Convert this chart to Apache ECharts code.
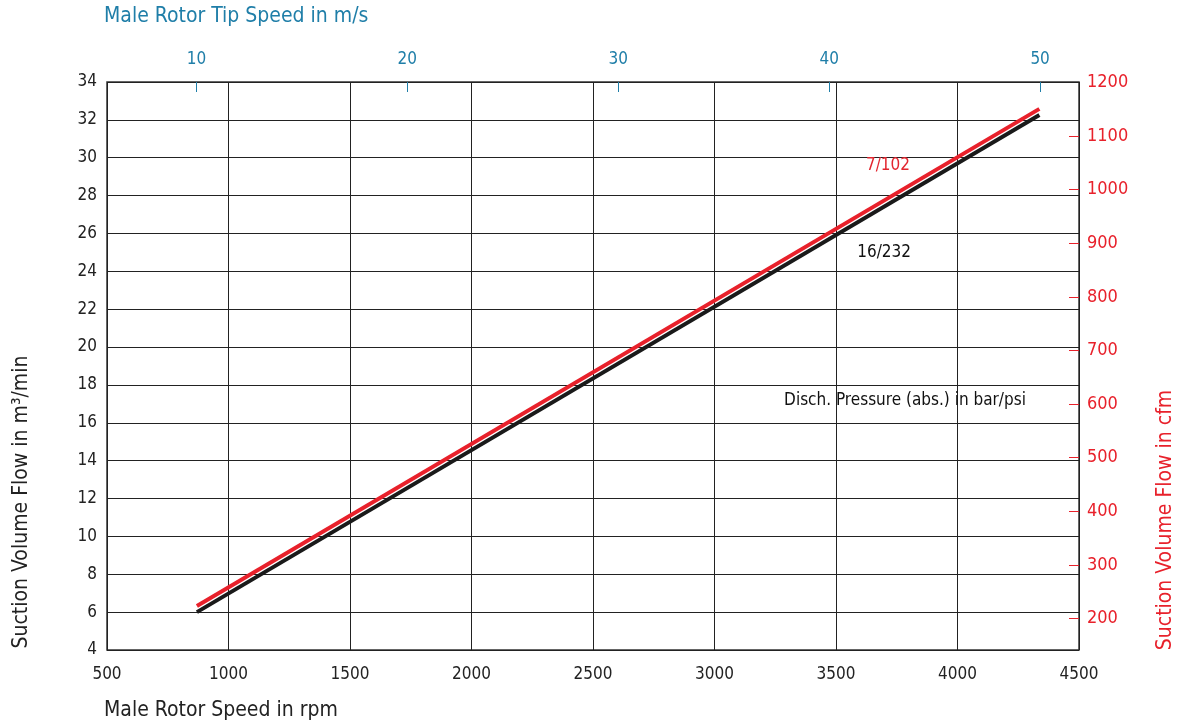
<!DOCTYPE html>
<html>
<head>
<meta charset="utf-8">
<script src="https://cdn.jsdelivr.net/npm/echarts@6/dist/echarts.min.js"></script>
<style>
  html, body { margin: 0; padding: 0; background: #fff; }
  #main { width: 1192px; height: 728px; }
</style>
</head>
<body>
<div id="main"></div>
<script>
// rpm -> flow in m3/min
let rpm_pts = [870, 4337];
let flow_16_232 = [6.0, 32.26];
let flow_7_102 = [6.32, 32.58];

let tip_ticks = [10, 20, 30, 40, 50];          // m/s
let cfm_labels = [200, 300, 400, 500, 600, 700, 800, 900, 1000, 1100, 1200];
let cfm_ticks = [200, 300, 400, 500, 600, 700, 800, 900, 1000, 1100];

let RPM_PER_MS = 86.8;      // 10 m/s ~ 868 rpm
let CFM_PER_M3 = 35.315;

// annotations [rpm, m3/min, text]
let notes = [
    [3714, 29.6, '7/102', '#e2262f'],
    [3698, 25.0, '16/232', '#111'],
    [3784, 17.15, 'Disch. Pressure (abs.) in bar/psi', '#111']
];

let font = '"Liberation Sans Narrow", "DejaVu Sans Condensed", Roboto, sans-serif';
let red = '#e8212b';
let blue = '#1f7ea8';
let plain = v => String(v);

let myChart = echarts.init(document.getElementById('main'));

let option = {
    animation: false,
    textStyle: { fontFamily: font },
    grid: { left: 107, right: 113, top: 82, bottom: 78, show: true, borderColor: '#333', borderWidth: 1.5 },
    xAxis: [
        {
            type: 'value', position: 'bottom',
            min: 500, max: 4500, interval: 500,
            axisLine: { show: false },
            axisTick: { show: false },
            axisLabel: { color: '#222', fontSize: 17, margin: 16, fontFamily: font, formatter: plain },
            splitLine: { lineStyle: { color: '#222', width: 1 } }
        },
        {
            type: 'value', position: 'top',
            min: 500 / RPM_PER_MS, max: 4500 / RPM_PER_MS,
            axisLine: { show: false },
            axisTick: { show: true, inside: true, length: 10, customValues: tip_ticks, lineStyle: { color: blue } },
            axisLabel: { color: blue, fontSize: 17, margin: 14, customValues: tip_ticks, fontFamily: font, formatter: plain },
            splitLine: { show: false }
        }
    ],
    yAxis: [
        {
            type: 'value', position: 'left',
            min: 4, max: 34, interval: 2,
            axisLine: { show: false },
            axisTick: { show: false },
            axisLabel: { color: '#222', fontSize: 17, margin: 10, fontFamily: font, formatter: plain },
            splitLine: { lineStyle: { color: '#222', width: 1 } }
        },
        {
            type: 'value', position: 'right',
            min: 4 * CFM_PER_M3, max: 34 * CFM_PER_M3,
            axisLine: { show: false },
            axisTick: { show: true, inside: true, length: 10, customValues: cfm_ticks, lineStyle: { color: red } },
            axisLabel: { color: red, fontSize: 18, margin: 8, customValues: cfm_labels, fontFamily: font, formatter: plain },
            splitLine: { show: false }
        }
    ],
    graphic: [
        { type: 'text', left: 104, top: 6, style: { text: 'Male Rotor Tip Speed in m/s', fill: blue, fontSize: 21, fontFamily: font } },
        { type: 'text', left: 104, top: 700, style: { text: 'Male Rotor Speed in rpm', fill: '#222', fontSize: 21, fontFamily: font } },
        { type: 'text', x: 22, y: 502, rotation: Math.PI / 2, style: { text: 'Suction Volume Flow in m³/min', fill: '#222', fontSize: 21, fontFamily: font, align: 'center', verticalAlign: 'middle' } },
        { type: 'text', x: 1166, y: 520, rotation: Math.PI / 2, style: { text: 'Suction Volume Flow in cfm', fill: red, fontSize: 21, fontFamily: font, align: 'center', verticalAlign: 'middle' } }
    ],
    series: [
        {
            name: '16/232', type: 'line', xAxisIndex: 0, yAxisIndex: 0,
            data: rpm_pts.map((r, i) => [r, flow_16_232[i]]),
            showSymbol: false,
            lineStyle: { color: '#1a1a1a', width: 4 }
        },
        {
            name: '7/102', type: 'line', xAxisIndex: 0, yAxisIndex: 0,
            data: rpm_pts.map((r, i) => [r, flow_7_102[i]]),
            showSymbol: false,
            lineStyle: { color: red, width: 4 }
        },
        {
            type: 'scatter', xAxisIndex: 0, yAxisIndex: 0,
            symbolSize: 0, silent: true,
            data: notes.map(n => ({
                value: [n[0], n[1]],
                label: { show: true, position: 'inside', formatter: n[2], color: n[3], fontSize: 17, fontWeight: 500, fontFamily: font, opacity: 1 }
            }))
        }
    ]
};
myChart.setOption(option);
</script>
</body>
</html>
